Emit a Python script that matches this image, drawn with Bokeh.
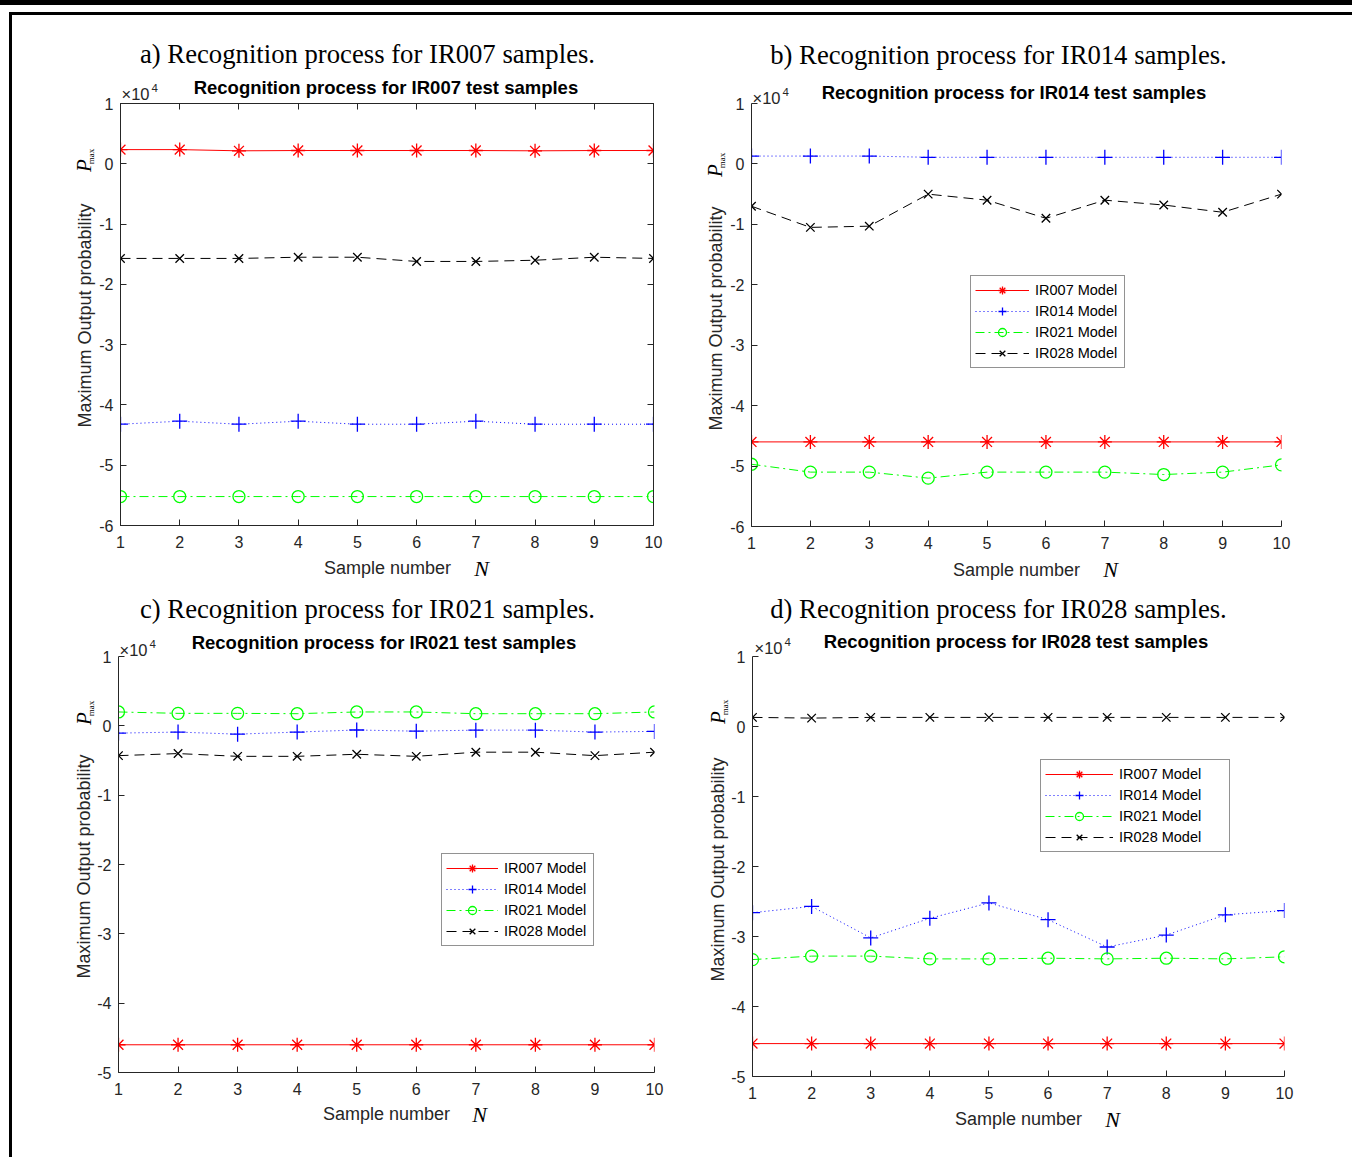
import math
from bokeh.plotting import figure
from bokeh.models import (FixedTicker, Range1d, Label, Legend, LegendItem,
                          LinearAxis, PrintfTickFormatter)
from bokeh.layouts import column, row
from bokeh.embed import file_html
from bokeh.resources import INLINE

# ---------------- data (values in units of 1e4) ----------------
samples = [1, 2, 3, 4, 5, 6, 7, 8, 9, 10]
model_names = ["IR007 Model", "IR014 Model", "IR021 Model", "IR028 Model"]

a_ir007 = [0.235, 0.235, 0.215, 0.22, 0.22, 0.22, 0.22, 0.215, 0.22, 0.22]
a_ir014 = [-4.32, -4.27, -4.32, -4.27, -4.32, -4.32, -4.27, -4.32, -4.32, -4.32]
a_ir021 = [-5.52, -5.52, -5.52, -5.52, -5.52, -5.52, -5.52, -5.52, -5.52, -5.52]
a_ir028 = [-1.57, -1.57, -1.57, -1.55, -1.55, -1.62, -1.62, -1.60, -1.55, -1.57]

b_ir007 = [-4.6, -4.6, -4.6, -4.6, -4.6, -4.6, -4.6, -4.6, -4.6, -4.6]
b_ir014 = [0.13, 0.13, 0.13, 0.11, 0.11, 0.11, 0.11, 0.11, 0.11, 0.11]
b_ir021 = [-4.97, -5.10, -5.10, -5.20, -5.10, -5.10, -5.10, -5.14, -5.10, -4.98]
b_ir028 = [-0.70, -1.05, -1.03, -0.50, -0.60, -0.90, -0.60, -0.68, -0.80, -0.50]

c_ir007 = [-4.6, -4.6, -4.6, -4.6, -4.6, -4.6, -4.6, -4.6, -4.6, -4.6]
c_ir014 = [-0.105, -0.09, -0.12, -0.09, -0.06, -0.077, -0.062, -0.062, -0.09, -0.08]
c_ir021 = [0.20, 0.18, 0.18, 0.175, 0.20, 0.20, 0.175, 0.175, 0.175, 0.20]
c_ir028 = [-0.43, -0.40, -0.44, -0.44, -0.41, -0.44, -0.38, -0.38, -0.43, -0.38]

d_ir007 = [-4.53, -4.53, -4.53, -4.53, -4.53, -4.53, -4.53, -4.53, -4.53, -4.53]
d_ir014 = [-2.66, -2.57, -3.02, -2.74, -2.52, -2.76, -3.15, -2.98, -2.69, -2.63]
d_ir021 = [-3.33, -3.28, -3.28, -3.32, -3.32, -3.31, -3.32, -3.31, -3.32, -3.29]
d_ir028 = [0.13, 0.12, 0.13, 0.13, 0.13, 0.13, 0.13, 0.13, 0.13, 0.13]

yticks_a = [-6, -5, -4, -3, -2, -1, 0, 1]
yticks_c = [-5, -4, -3, -2, -1, 0, 1]

captions = ["a) Recognition process for IR007 samples.",
            "b) Recognition process for IR014 samples.",
            "c) Recognition process for IR021 samples.",
            "d) Recognition process for IR028 samples."]
subtitles = ["Recognition  process for IR007 test samples",
             "Recognition  process for IR014 test samples",
             "Recognition  process for IR021 test samples",
             "Recognition  process for IR028 test samples"]
x_title = "Sample number"
x_symbol = "N"
y_title = "Maximum Output probability"
y_symbol = "P"
y_symbol_sub = "max"
exp_base = "\u00d710"
exp_power = "4"

# ---------------- styles ----------------
AX = "#262626"
SANS = "Liberation Sans"
SERIF = "Liberation Serif"
series_style = {
    "IR007 Model": dict(color="#FF0000", dash="solid", marker="asterisk", size=14),
    "IR014 Model": dict(color="#0000FF", dash="1 3", marker="cross", size=15),
    "IR021 Model": dict(color="#00FF00", dash="9 4 2 4", marker="circle", size=12),
    "IR028 Model": dict(color="#000000", dash="10 6", marker="x", size=12),
}


def make_panel(data, ymin, ymax, yticks, box, fw, fh, bl, br, bt, bb,
               legend_loc=None, glyph_w=50, label_w=84):
    p = figure(frame_width=fw, frame_height=fh, min_border_left=bl,
               min_border_right=br, min_border_top=bt, min_border_bottom=bb,
               x_range=Range1d(1, 10), y_range=Range1d(ymin, ymax),
               output_backend="svg", toolbar_location=None, tools="")
    p.xgrid.visible = False
    p.ygrid.visible = False
    p.outline_line_color = AX if box else None
    xax = p.xaxis[0]
    yax = p.yaxis[0]
    xax.ticker = FixedTicker(ticks=samples)
    yax.ticker = FixedTicker(ticks=yticks)
    xax.formatter = PrintfTickFormatter(format="%d")
    yax.formatter = PrintfTickFormatter(format="%d")
    axes = [xax, yax]
    if box:
        top = LinearAxis(ticker=FixedTicker(ticks=samples), major_label_text_color=None,
                         major_label_standoff=0, major_label_text_font_size="1px")
        right = LinearAxis(ticker=FixedTicker(ticks=yticks), major_label_text_color=None,
                           major_label_standoff=0, major_label_text_font_size="1px")
        p.add_layout(top, "above")
        p.add_layout(right, "right")
        axes += [top, right]
    for ax in axes:
        ax.axis_line_color = AX
        ax.axis_line_width = 1
        ax.major_tick_line_color = AX
        ax.major_tick_in = 6
        ax.major_tick_out = 0
        ax.minor_tick_line_color = None
        ax.major_label_text_font = SANS
    for ax in (xax, yax):
        ax.major_label_text_color = AX
        ax.major_label_text_font_size = "16px"
    xax.major_label_standoff = 10
    yax.major_label_standoff = 7

    items = []
    for name, ys in zip(model_names, data):
        st = series_style[name]
        ln = p.line(samples, ys, line_color=st["color"], line_width=1,
                    line_dash=st["dash"])
        sc = p.scatter(samples, ys, marker=st["marker"], size=st["size"],
                       line_color=st["color"], fill_color=None, line_width=1.3)
        items.append(LegendItem(label=name, renderers=[ln, sc]))
    if legend_loc is not None:
        leg = Legend(items=items, location=legend_loc, glyph_width=glyph_w,
                     glyph_height=20, label_height=20, label_width=label_w,
                     spacing=1, padding=4, margin=0, label_standoff=6,
                     border_line_color=AX, border_line_width=1,
                     label_text_font=SANS, label_text_font_size="14.5px",
                     label_text_color="#000000", background_fill_color="white",
                     background_fill_alpha=1.0)
        p.add_layout(leg)
    return p


pa = make_panel([a_ir007, a_ir014, a_ir021, a_ir028], -6, 1, yticks_a, True,
                fw=533, fh=422, bl=108, br=34, bt=88, bb=64)
pb = make_panel([b_ir007, b_ir014, b_ir021, b_ir028], -6, 1, yticks_a, False,
                fw=530, fh=423, bl=64, br=71, bt=88, bb=63,
                legend_loc=(219, 158), glyph_w=54, label_w=85)
pc = make_panel([c_ir007, c_ir014, c_ir021, c_ir028], -5, 1, yticks_c, False,
                fw=536, fh=416, bl=106, br=33, bt=67, bb=85,
                legend_loc=(323, 126), glyph_w=52, label_w=85)
pd = make_panel([d_ir007, d_ir014, d_ir021, d_ir028], -5, 1, yticks_c, False,
                fw=532, fh=420, bl=65, br=68, bt=67, bb=81,
                legend_loc=(288, 224), glyph_w=68, label_w=106)

# ---------------- text overlay (page pixel coordinates) ----------------
ov = figure(width=1352, height=1157, x_range=Range1d(0, 1352), y_range=Range1d(1157, 0),
            min_border=0, x_axis_location=None, y_axis_location=None,
            toolbar_location=None, tools="", output_backend="svg",
            background_fill_alpha=0, border_fill_alpha=0, outline_line_color=None,
            styles={"position": "absolute", "left": "0px", "top": "0px",
                    "pointer-events": "none",
                    "box-shadow": "inset 0 5px 0 0 black"})
ov.grid.visible = False


def txt(text, x, y, size, font=SANS, style="normal", angle=0.0, align="center",
        color=AX):
    ov.add_layout(Label(x=x, y=y, text=text, text_font=font, text_font_size=size,
                        text_font_style=style, angle=angle, text_align=align,
                        text_baseline="middle", text_color=color))


# per panel: caption, subtitle, exponent, x title, N, y title, P, max
layout_txt = [
    dict(cap=(367, 53), sub=(388, 87), exp=(121, 93), xt=(387, 567), n=(481, 568),
         yt=(84, 315), p=(83, 165), m=(90, 156)),
    dict(cap=(998, 54), sub=(1016, 92), exp=(752, 97), xt=(1016, 569), n=(1110, 569),
         yt=(715, 318), p=(714, 170), m=(721, 160)),
    dict(cap=(367, 608), sub=(386, 642), exp=(119, 649), xt=(386, 1113), n=(479, 1114),
         yt=(83, 866), p=(83, 718), m=(90, 708)),
    dict(cap=(998, 608), sub=(1018, 641), exp=(754, 647), xt=(1018, 1118), n=(1112, 1119),
         yt=(717, 869), p=(717, 717), m=(724, 707)),
]
for i, L in enumerate(layout_txt):
    txt(captions[i], *L["cap"], "26.7px", font=SERIF, color="#000000")
    txt(subtitles[i], *L["sub"], "18.5px", style="bold", color="#000000")
    ex, ey = L["exp"]
    txt(exp_base, ex, ey, "16.5px", align="left")
    txt(exp_power, ex + 30, ey - 6, "11.5px", align="left")
    txt(x_title, *L["xt"], "18px")
    txt(x_symbol, *L["n"], "22px", font=SERIF, style="italic", color="#000000")
    txt(y_title, *L["yt"], "18px", angle=math.pi / 2)
    txt(y_symbol, *L["p"], "21px", font=SERIF, style="italic", angle=math.pi / 2,
        color="#000000")
    txt(y_symbol_sub, *L["m"], "9px", font=SERIF, angle=math.pi / 2, color="#000000")

grid = column(row(pa, pb, spacing=0), row(pc, pd, spacing=0), spacing=0,
              margin=(12, 0, 0, 9),
              styles={"border-left": "3px solid black", "border-top": "3px solid black"})
root = column(grid, ov, spacing=0)

open("out.html", "w").write(file_html(root, INLINE))
